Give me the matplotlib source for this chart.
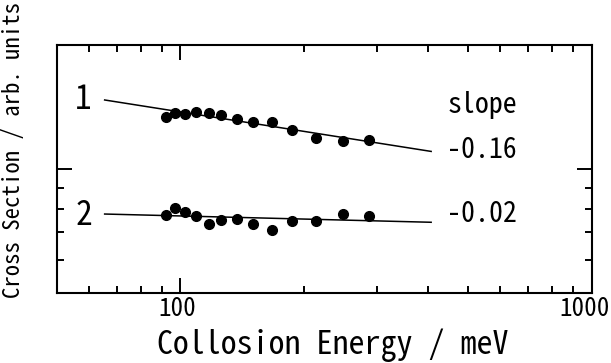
import matplotlib
matplotlib.use('Agg')
import matplotlib.pyplot as plt
import matplotlib.transforms as mtransforms
from matplotlib.ticker import LogLocator, NullFormatter

# 字体: 等宽半角风格
plt.rcParams['font.family'] = ['Noto Sans Mono CJK JP', 'DejaVu Sans Mono']

# 数据
energy = [92.2, 97.2, 102.3, 109.2, 117.2, 125.4, 137.2, 150.4, 167.3, 187.2, 213.5, 248.9, 288.0]
sigma1 = [1.339, 1.364, 1.356, 1.372, 1.369, 1.351, 1.318, 1.302, 1.302, 1.244, 1.189, 1.169, 1.178]
sigma2 = [0.771, 0.801, 0.786, 0.766, 0.733, 0.749, 0.754, 0.734, 0.710, 0.746, 0.747, 0.777, 0.768]

# 拟合直线端点
fit_energy = [65.4, 407.0]
fit1 = [1.470, 1.102]
fit2 = [0.776, 0.741]

series_labels = ['1', '2']
slope_labels = ['-0.16', '-0.02']
xtick_vals = [100, 1000]
xtick_labels = ['100', '1000']

fig = plt.figure(figsize=(6.11, 3.63), dpi=100)
ax = fig.add_axes([0.0928, 0.1942, 0.8756, 0.6818])

ax.plot(energy, sigma1, 'o', color='black', ms=7)
ax.plot(energy, sigma2, 'o', color='black', ms=7)
ax.plot(fit_energy, fit1, color='black', lw=1.1)
ax.plot(fit_energy, fit2, color='black', lw=1.1)

ax.set_xscale('log')
ax.set_yscale('log')
ax.set_xlim(50, 1000)
ax.set_ylim(0.5, 2.0)

ax.set_xticks(xtick_vals, xtick_labels)
ax.xaxis.set_minor_locator(LogLocator(base=10, subs=range(2, 10)))
ax.xaxis.set_minor_formatter(NullFormatter())
ax.yaxis.set_major_formatter(NullFormatter())
ax.yaxis.set_minor_formatter(NullFormatter())

ax.tick_params(which='both', direction='in', top=True, right=True, width=1.4)
ax.tick_params(which='major', length=10.5, labelsize=18, pad=3)
ax.tick_params(which='minor', length=4.7)
for s in ax.spines.values():
    s.set_linewidth(1.5)

# 刻度标签稍向左移
for lab, dx in zip(ax.get_xticklabels(), [-3, -7]):
    lab.set_transform(lab.get_transform() +
                      mtransforms.ScaledTranslation(dx / 100, 0, fig.dpi_scale_trans))

# 序号标注
ax.text(58.1, 1.47, series_labels[0], fontsize=24, ha='center', va='center')
ax.text(58.1, 0.768, series_labels[1], fontsize=24, ha='center', va='center')

# 斜率标注
ax.text(445, 1.429, 'slope', fontsize=20, ha='left', va='center')
ax.text(445, 1.113, slope_labels[0], fontsize=20, ha='left', va='center')
ax.text(445, 0.776, slope_labels[1], fontsize=20, ha='left', va='center')

fig.text(333 / 611, 1 - 345.5 / 363, 'Collosion Energy / meV', fontsize=23,
         ha='center', va='center')
fig.text(14 / 611, 1 - 150 / 363, 'Cross Section / arb. units', fontsize=16.4,
         rotation=90, ha='center', va='center')

fig.savefig('out.png', dpi=100)
